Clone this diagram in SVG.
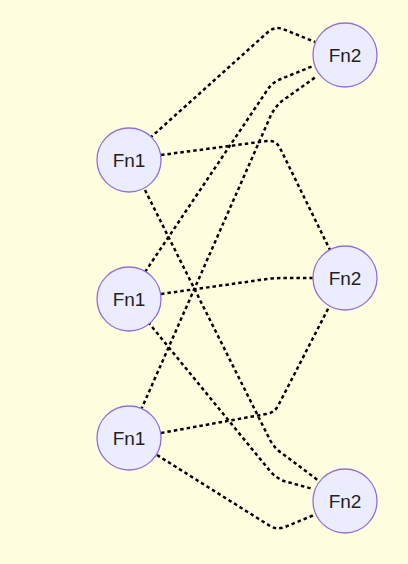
<svg xmlns="http://www.w3.org/2000/svg" width="408" height="564" viewBox="0 0 408 564">
<style>
.node circle{fill:#ECECFF;stroke:#9370DB;stroke-width:1.3}
.node text{font-family:"Liberation Sans","DejaVu Sans",sans-serif;font-size:19px;fill:#222;text-anchor:middle;dominant-baseline:central}
.edge{fill:none;stroke:#000;stroke-width:2.5;stroke-dasharray:3.5 3}
</style>
<rect width="408" height="564" fill="#FFFFE0"/>
<g id="connectors">
<path class="edge" d="M150,138 L268,32 Q275,26 283,29 L315,42"/>
<path class="edge" d="M161,155 L267,141 Q276,140 280,148 L330,250"/>
<path class="edge" d="M145,190 L270,440 Q275,449 283,454 L319,481"/>
<path class="edge" d="M145,272 L268,89 Q273,82 281,79 L313,66"/>
<path class="edge" d="M161,294 L267,279 Q275,278 283,278 L313,278"/>
<path class="edge" d="M148,322 L270,471 Q276,478 284,481 L313,489"/>
<path class="edge" d="M141,410 L271,115 Q275,107 282,101 L317,76"/>
<path class="edge" d="M161,433 L266,414 Q274,413 278,406 L330,305"/>
<path class="edge" d="M157,455 L270,526 Q277,530 285,527 L314,515"/>
</g>
<g id="fn1-a" class="node"><circle cx="129" cy="160" r="32"/><text x="129" y="160">Fn1</text></g>
<g id="fn1-b" class="node"><circle cx="129" cy="299" r="32"/><text x="129" y="299">Fn1</text></g>
<g id="fn1-c" class="node"><circle cx="129" cy="438" r="32"/><text x="129" y="438">Fn1</text></g>
<g id="fn2-a" class="node"><circle cx="345" cy="55" r="32"/><text x="345" y="55">Fn2</text></g>
<g id="fn2-b" class="node"><circle cx="345" cy="278" r="32"/><text x="345" y="278">Fn2</text></g>
<g id="fn2-c" class="node"><circle cx="345" cy="501" r="32"/><text x="345" y="501">Fn2</text></g>
</svg>
